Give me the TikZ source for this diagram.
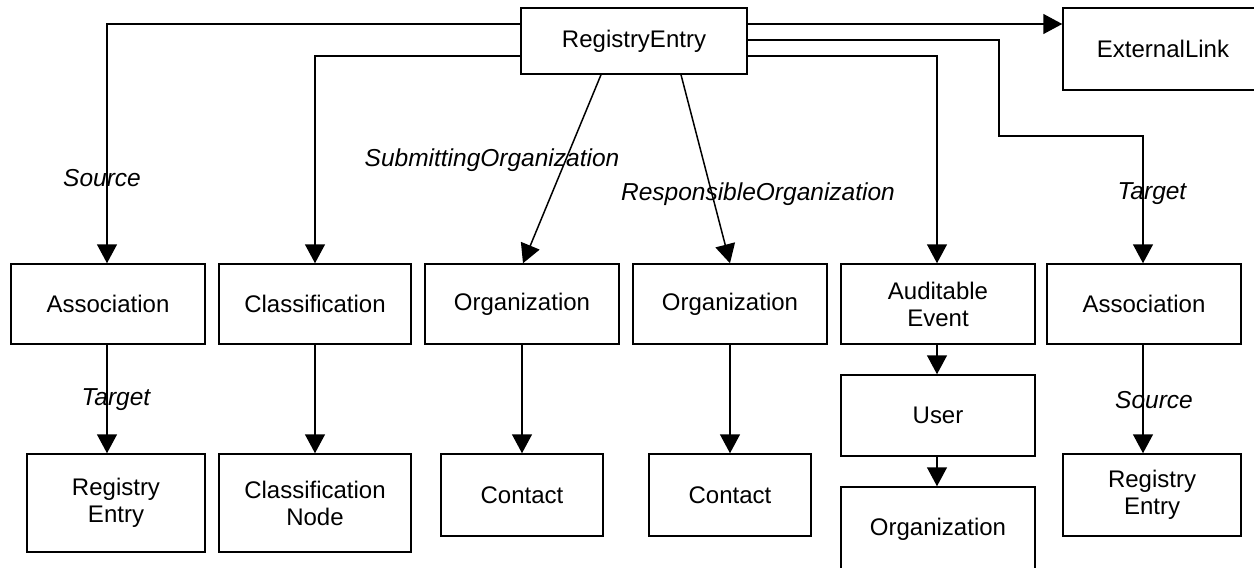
\documentclass[tikz,border=0pt]{standalone}
\usepackage{fontspec}
\setmainfont{Liberation Sans}
\usetikzlibrary{arrows.meta}
\begin{document}
\begin{tikzpicture}[x=1pt,y=-1pt,
  box/.style={draw,line width=1.5pt,inner sep=0pt,align=center,font=\fontsize{24}{27}\selectfont},
  lbl/.style={font=\fontsize{24.5}{27}\selectfont\itshape,inner sep=0pt},
  arr/.style={line width=1.5pt,-{Triangle[length=19pt,width=20pt]}},
  con/.style={line width=1.5pt}]
\useasboundingbox (0,0) rectangle (1254,568);
% boxes
\node[box,minimum width=226pt,minimum height=66pt] (RE) at (634,41) {RegistryEntry};
\node[box,minimum width=200pt,minimum height=82pt] (EL) at (1163,49) {ExternalLink};
\node[box,minimum width=194pt,minimum height=80pt] (A1) at (108,304) {Association};
\node[box,minimum width=192pt,minimum height=80pt] (CL) at (315,304) {Classification};
\node[box,minimum width=194pt,minimum height=80pt] (O1) at (522,304) {Organization};
\node[box,minimum width=194pt,minimum height=80pt] (O2) at (730,304) {Organization};
\node[box,minimum width=194pt,minimum height=80pt] (AE) at (938,304) {Auditable\\Event};
\node[box,minimum width=194pt,minimum height=80pt] (A2) at (1144,304) {Association};
\node[box,minimum width=178pt,minimum height=98pt] (RE1) at (116,503) {Registry\\Entry};
\node[box,minimum width=192pt,minimum height=98pt] (CN) at (315,503) {Classification\\Node};
\node[box,minimum width=162pt,minimum height=82pt] (C1) at (522,495) {Contact};
\node[box,minimum width=162pt,minimum height=82pt] (C2) at (730,495) {Contact};
\node[box,minimum width=194pt,minimum height=81pt] (U) at (938,415.5) {User};
\node[box,minimum width=194pt,minimum height=84pt] (O3) at (938,529) {Organization};
\node[box,minimum width=178pt,minimum height=82pt] (RE2) at (1152,495) {Registry\\Entry};
% connectors from RegistryEntry
\draw[arr] ([yshift=17pt]RE.west) -| ([xshift=-1pt]A1.north);
\draw[arr] ([yshift=-15pt]RE.west) -| (CL.north);
\draw[arr] ([xshift=-33pt]RE.south) -- ([xshift=1pt]O1.north);
\draw[arr] ([xshift=47pt]RE.south) -- (O2.north);
\draw[arr] ([yshift=17pt]RE.east) -- ([yshift=17pt]RE.east -| EL.west);
\coordinate (bend) at (999,136);
\draw[arr] ([yshift=1pt]RE.east) -| (bend) -| ([xshift=-1pt]A2.north);
\draw[arr] ([yshift=-15pt]RE.east) -| ([xshift=-1pt]AE.north);
% lower connectors
\draw[arr] ([xshift=-1pt]A1.south) -- ([xshift=-1pt]A1.south |- RE1.north);
\draw[arr] (CL.south) -- (CN.north);
\draw[arr] (O1.south) -- (C1.north);
\draw[arr] (O2.south) -- (C2.north);
\draw[arr] ([xshift=-1pt]AE.south) -- ([xshift=-1pt]U.north);
\draw[arr] ([xshift=-1pt]U.south) -- ([xshift=-1pt]O3.north);
\draw[arr] ([xshift=-1pt]A2.south) -- ([xshift=-1pt]A2.south |- RE2.north);
% labels
\node[lbl] (lsrc1) at (102,178) {Source};
\node[lbl] (lsub) at (492,160) {SubmittingOrganization};
\node[lbl] (lresp) at (758,194) {ResponsibleOrganization};
\node[lbl] (ltgt1) at (1152,194) {Target};
\node[lbl] (ltgt2) at (116,400) {Target};
\node[lbl] (lsrc2) at (1154,400) {Source};
\end{tikzpicture}
\end{document}
